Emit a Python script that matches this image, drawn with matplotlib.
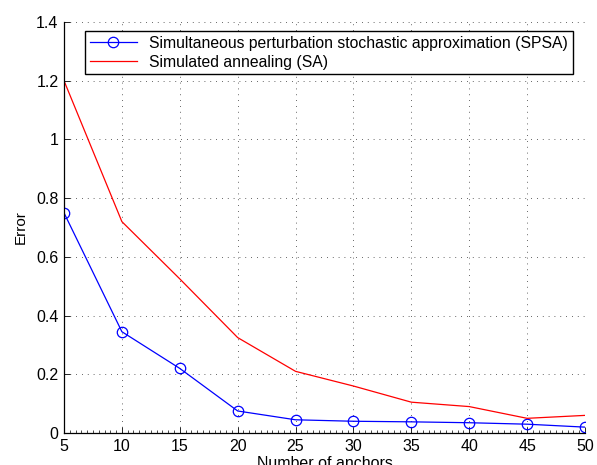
import numpy as np
import matplotlib
matplotlib.use("Agg")
import matplotlib.pyplot as plt
from matplotlib.ticker import MultipleLocator

plt.rcParams['font.family'] = ['Liberation Sans', 'DejaVu Sans']

# Data
anchors = [5, 10, 15, 20, 25, 30, 35, 40, 45, 50]
spsa = [0.75, 0.345, 0.22, 0.075, 0.045, 0.04, 0.038, 0.035, 0.03, 0.02]
sa = [1.2, 0.72, 0.525, 0.325, 0.21, 0.16, 0.105, 0.09, 0.05, 0.06]

W, H = 597, 465
fig = plt.figure(figsize=(W / 100, H / 100), dpi=100)
ax = fig.add_axes([64 / W, (H - 433) / H, (585 - 64) / W, (433 - 22) / H])

ax.plot(anchors, spsa, color='#0000ff', lw=0.9, marker='o', ms=7.5,
        mfc='none', mec='#0000ff', mew=0.9,
        label="Simultaneous perturbation stochastic approximation (SPSA)")
ax.plot(anchors, sa, color='#ff0000', lw=0.9,
        label="Simulated annealing (SA)")

ax.set_xlim(5, 50)
ax.set_ylim(0, 1.4)
ax.set_xticks(np.arange(5, 51, 5))
ax.set_yticks([0, 0.2, 0.4, 0.6, 0.8, 1, 1.2, 1.4])
ax.set_yticklabels(['0', '0.2', '0.4', '0.6', '0.8', '1', '1.2', '1.4'])
ax.xaxis.set_minor_locator(MultipleLocator(0.5))

ax.spines['top'].set_visible(False)
ax.spines['right'].set_visible(False)
ax.spines['left'].set_linewidth(0.9)
ax.spines['bottom'].set_linewidth(0.9)

ax.tick_params(which='major', direction='in', length=4, width=0.6, labelsize=11.5, pad=4)
ax.tick_params(which='minor', direction='in', length=2, width=0.5)
ax.grid(True, which='major', linestyle=(0, (1, 6)), color='#333333', lw=0.6)

ax.set_ylabel("Error", fontsize=11, labelpad=6)
ax.set_xlabel("Number of anchors", fontsize=11.5, va='top')
ax.xaxis.set_label_coords(0.5, (433 - 456) / 411)

leg = ax.legend(loc='upper left', bbox_to_anchor=(0.04, 0.978), fontsize=11.3,
                fancybox=False, framealpha=1, edgecolor='black',
                borderpad=0.3, labelspacing=0.25, handlelength=3.0,
                borderaxespad=0)
leg.get_frame().set_linewidth(1.0)

fig.savefig("out.png", dpi=100)
